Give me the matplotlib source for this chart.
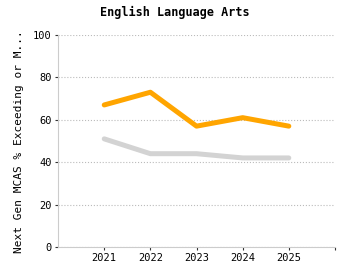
import matplotlib
matplotlib.use('Agg')
import matplotlib.pyplot as plt

years = [2021, 2022, 2023, 2024, 2025]
school = [67, 73, 57, 61, 57]     # orange
state = [51, 44, 44, 42, 42]      # gray
yticks = [0, 20, 40, 60, 80, 100]

plt.rcParams['font.family'] = 'DejaVu Sans Mono'

fig = plt.figure(figsize=(3.5, 2.8), dpi=100)
ax = fig.add_axes([0.166, 0.118, 0.791, 0.757])

ax.plot(years, state, color='#d3d3d3', lw=3.6, solid_capstyle='round', zorder=3)
ax.plot(years, school, color='#ffa500', lw=3.6, solid_capstyle='round', zorder=4)

ax.set_xlim(2020, 2026)
ax.set_ylim(0, 100)
ax.set_xticks(years + [2026])
ax.set_xticklabels([str(y) for y in years] + [''])
ax.set_yticks(yticks)
ax.tick_params(labelsize=7.5, length=2.5, width=0.8, color='#333333', pad=2)
ax.yaxis.grid(True, linestyle=':', color='#bbbbbb', lw=0.8)
for s in ['top', 'right']:
    ax.spines[s].set_visible(False)
for s in ['left', 'bottom']:
    ax.spines[s].set_color('#cccccc')

fig.text(0.5, 0.955, 'English Language Arts', ha='center', va='center',
         fontsize=8.5, fontweight='bold')
fig.text(0.055, 0.495, 'Next Gen MCAS % Exceeding or M...', rotation=90,
         ha='center', va='center', fontsize=8)

fig.savefig('out.png', dpi=100)
